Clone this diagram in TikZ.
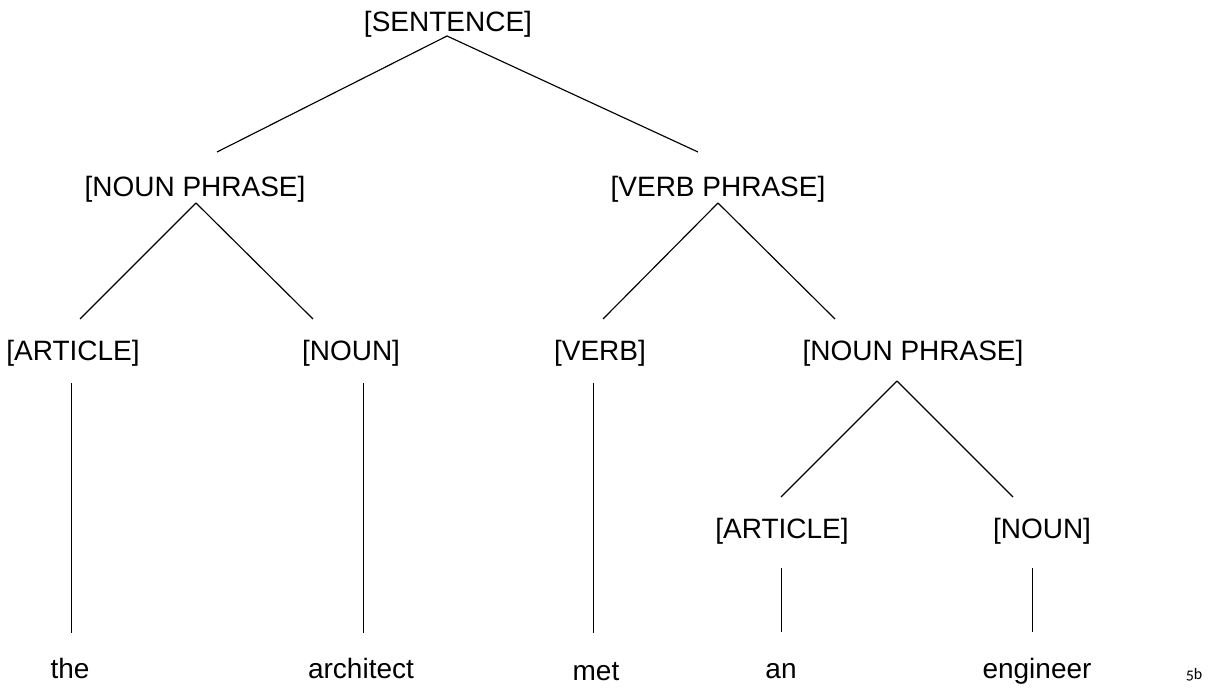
\documentclass[tikz,border=0pt]{standalone}
\usepackage{fontspec}
\setmainfont{Liberation Sans}
\newfontfamily\notefont[Numbers=OldStyle]{Carlito}
\usepackage{tikz}
\usetikzlibrary{calc}
\tikzset{
  cat/.style={anchor=base, inner sep=0pt, font=\fontsize{28}{32}\selectfont},
  word/.style={anchor=base, inner sep=0pt, font=\fontsize{28}{32}\selectfont},
  branch/.style={draw=black, line width=1.15pt},
}

\begin{document}
\begin{tikzpicture}[x=1pt, y=-1pt]
\useasboundingbox (0,0) rectangle (1208,692);

% category labels
\node[cat] (s)    at (448,32)  {[SENTENCE]};
\node[cat] (npa)  at (195,197) {[NOUN PHRASE]};
\node[cat] (vp)   at (718,197) {[VERB PHRASE]};
\node[cat] (arta) at (73,361)  {[ARTICLE]};
\node[cat] (na)   at (351,361) {[NOUN]};
\node[cat] (v)    at (600,361) {[VERB]};
\node[cat] (npb)  at (913,361) {[NOUN PHRASE]};
\node[cat] (artb) at (782,538) {[ARTICLE]};
\node[cat] (nb)   at (1042,538) {[NOUN]};

% words
\node[word] (the)       at (70,678)   {the};
\node[word] (architect) at (361,678)  {architect};
\node[word] (met)       at (596,680)  {met};
\node[word] (an)        at (781,678)  {an};
\node[word] (engineer)  at (1037,678) {engineer};

\node[anchor=base, inner sep=0pt, font=\notefont\fontsize{16}{18}\selectfont] (tag) at (1194,679) {5b};

% branches
\draw[branch] ($(s.base)+(-1,4)$) -- ($(npa.base)+(22,-45)$);
\draw[branch] ($(s.base)+(-1,4)$) -- ($(vp.base)+(-20,-45)$);
\draw[branch] ($(npa.base)+(1,6)$) -- ($(arta.base)+(7,-42)$);
\draw[branch] ($(npa.base)+(1,6)$) -- ($(na.base)+(-38,-42)$);
\draw[branch] ($(vp.base)+(0,6)$) -- ($(v.base)+(3,-42)$);
\draw[branch] ($(vp.base)+(0,6)$) -- ($(npb.base)+(-78,-42)$);
\draw[branch] ($(npb.base)+(-16,20)$) -- ($(artb.base)+(-1,-41)$);
\draw[branch] ($(npb.base)+(-16,20)$) -- ($(nb.base)+(-29,-41)$);

% leaves
\draw[branch] ($(arta.base)+(-1.5,22)$) -- ($(the.base)+(1.5,-45)$);
\draw[branch] ($(na.base)+(12.5,22)$) -- ($(architect.base)+(2.5,-45)$);
\draw[branch] ($(v.base)+(-6.5,22)$) -- ($(met.base)+(-2.5,-47)$);
\draw[branch] ($(artb.base)+(-0.5,30)$) -- ($(an.base)+(0.5,-46)$);
\draw[branch] ($(nb.base)+(-9.5,30)$) -- ($(engineer.base)+(-4.5,-46)$);

\end{tikzpicture}
\end{document}
